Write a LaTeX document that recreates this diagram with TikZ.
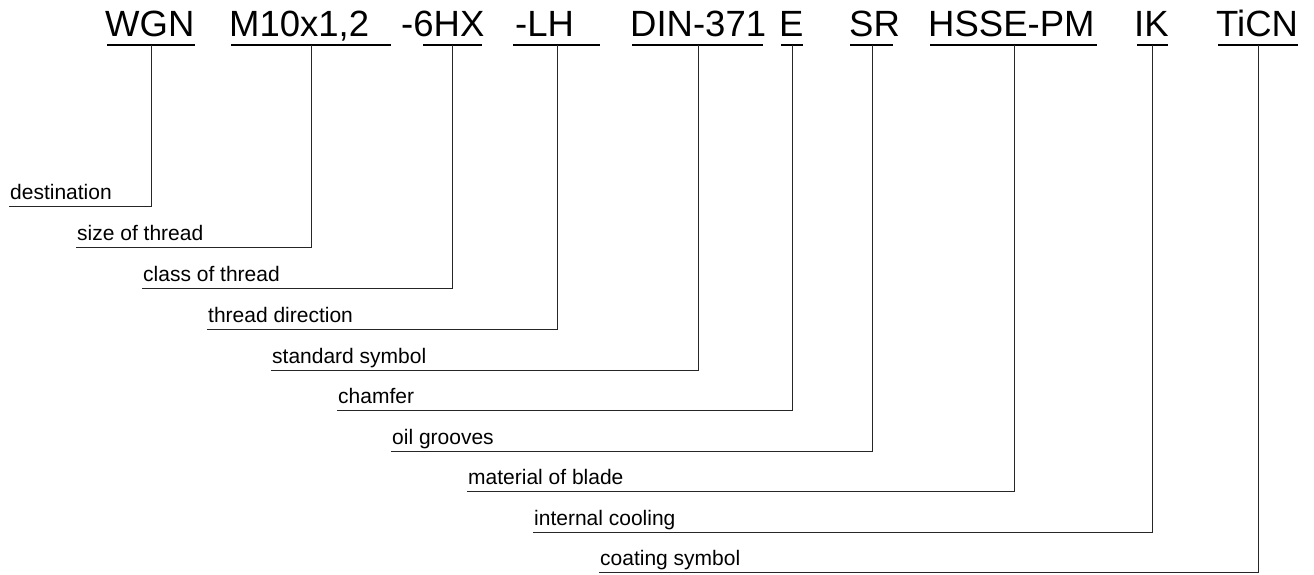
\documentclass[tikz,border=0pt]{standalone}
\usepackage{fontspec}
\setmainfont{Liberation Sans}
\begin{document}
\begin{tikzpicture}[x=1pt,y=-1pt,
  code/.style={anchor=base west,inner sep=0pt,font=\fontsize{36.5}{40}\selectfont},
  lbl/.style={anchor=base west,inner sep=0pt,font=\fontsize{21}{24}\selectfont},
  ul/.style={line width=1.2pt,black},
  conn/.style={line width=1pt,black!85}]
\useasboundingbox (0,0) rectangle (1314,574);
% codes
\node[code] (c1) at (105,36) {WGN};
\node[code] (c2) at (229,36) {M10x1,2};
\node[code] (c3) at (401,36) {-6HX};
\node[code] (c4) at (515,36) {-LH};
\node[code] (c5) at (630,36) {DIN-371};
\node[code] (c6) at (779,36) {E};
\node[code] (c7) at (849,36) {SR};
\node[code] (c8) at (928,36) {HSSE-PM};
\node[code] (c9) at (1134,36) {IK};
\node[code] (c10) at (1216,36) {TiCN};
% underlines
\foreach \i/\a/\b/\v in {1/107/195/151, 2/231/391/311, 3/423/482/452, 4/513/600/557, 5/632/763/698, 6/781/803/792, 7/850/893/872, 8/930/1097/1014, 9/1137/1168/1152, 10/1218/1298/1258}{
  \coordinate (ua\i) at (\a,45);
  \coordinate (ub\i) at (\b,45);
  \coordinate (uv\i) at (\v,45);
  \draw[ul] (ua\i) -- (ub\i);
}
% labels
\foreach \i/\x/\y/\t in {1/9/206/destination, 2/76/247/size of thread, 3/142/288/class of thread, 4/207/329/thread direction, 5/271/370/standard symbol, 6/337/410/chamfer, 7/391/451/oil grooves, 8/467/491/material of blade, 9/533/532/internal cooling, 10/599/572/coating symbol}{
  \node[lbl] (l\i) at (\x+1,\y-7) {\t};
  \coordinate (ls\i) at (\x,\y);
}
\foreach \i/\v in {1/151, 2/311, 3/452, 4/557, 5/698, 6/792, 7/872, 8/1014, 9/1152, 10/1258}{
  \draw[conn] (uv\i) -- (uv\i |- ls\i) -- (ls\i);
}
\end{tikzpicture}
\end{document}
